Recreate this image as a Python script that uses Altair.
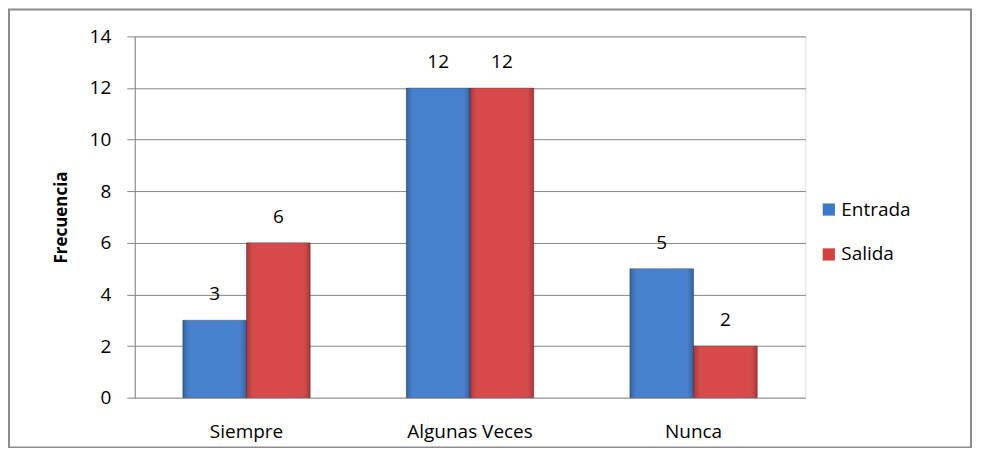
import altair as alt
import pandas as pd

categories = ["Siempre", "Algunas Veces", "Nunca"]
series = ["Entrada", "Salida"]
entrada = [3, 12, 5]
salida = [6, 12, 2]

rows = []
for c, e, s in zip(categories, entrada, salida):
    rows.append({"cat": c, "serie": "Entrada", "val": e})
    rows.append({"cat": c, "serie": "Salida", "val": s})
df = pd.DataFrame(rows)

FONT = "Open Sans"

x = alt.X("cat:N", sort=categories, title=None,
          scale=alt.Scale(paddingInner=0.43, paddingOuter=0.215),
          axis=alt.Axis(labelAngle=0, ticks=False, domain=False, labelPadding=25,
                        labelFontSize=19, labelFont=FONT, labelColor="#000000"))
y = alt.Y("val:Q", title="Frecuencia",
          scale=alt.Scale(domain=[0, 14], nice=False),
          axis=alt.Axis(values=list(range(0, 15, 2)), tickSize=8, tickColor="#868686",
                        domainColor="#868686", gridColor="#868686", labelPadding=16,
                        labelFontSize=19, labelFont=FONT, labelColor="#000000",
                        titleFontSize=17, titleFont=FONT, titleFontWeight="bold",
                        titleColor="#000000", titleX=-73, titleY=181,
                        titleBaseline="middle", titleAngle=-90))

color = alt.Color("serie:N", sort=series, title=None,
                  scale=alt.Scale(domain=series, range=["#3B79CB", "#D63F3F"]),
                  legend=alt.Legend(orient="none", legendX=686, legendY=164,
                                    symbolType="square", symbolSize=150,
                                    symbolStrokeWidth=0, labelFontSize=19,
                                    labelFont=FONT, labelColor="#000000",
                                    rowPadding=25, labelOffset=3))

xoff = alt.XOffset("serie:N", sort=series, scale=alt.Scale(paddingInner=0))

bars = alt.Chart(df).mark_bar(stroke="#2a2a2a", strokeOpacity=0.35, strokeWidth=1).encode(
    x=x, y=y, color=color, xOffset=xoff,
)

shade = alt.Chart(df).mark_bar(
    fill=alt.Gradient(gradient="linear", x1=0, x2=1, y1=0, y2=0,
                      stops=[alt.GradientStop(color="rgba(0,0,0,0.22)", offset=0),
                             alt.GradientStop(color="rgba(255,255,255,0.06)", offset=0.15),
                             alt.GradientStop(color="rgba(255,255,255,0.06)", offset=0.85),
                             alt.GradientStop(color="rgba(0,0,0,0.22)", offset=1)]),
    strokeWidth=0,
).encode(x=alt.X("cat:N", sort=categories), y="val:Q", xOffset=xoff)

labels = alt.Chart(df).mark_text(baseline="bottom", dy=-16, fontSize=19, font=FONT,
                                  color="#000000").encode(
    x=alt.X("cat:N", sort=categories),
    y="val:Q",
    xOffset=xoff,
    text="val:Q",
)

border = alt.Chart(pd.DataFrame({"a": [0]})).mark_rect(
    fill=None, stroke="#8c8c8c", strokeWidth=2).encode(
    x=alt.value(-126), x2=alt.value(838), y=alt.value(-27), y2=alt.value(412))

chart = alt.layer(border, bars, shade, labels).properties(
    width=672, height=362,
    autosize=alt.AutoSizeParams(type="none"),
    padding={"left": 127, "top": 28, "right": 168, "bottom": 50},
).configure_view(stroke=None).configure(background="#ffffff")

chart.save("out.html", embed_options={"renderer": "svg", "actions": False})
